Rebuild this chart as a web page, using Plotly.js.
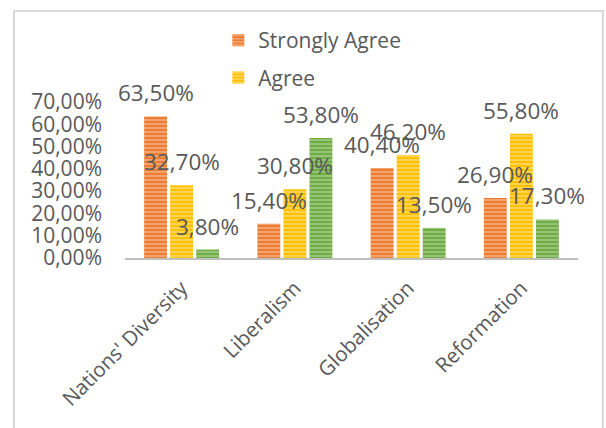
<!DOCTYPE html>
<html>
<head>
<meta charset="utf-8">
<script src="https://cdn.plot.ly/plotly-3.0.1.min.js"></script>
<style>
html,body{margin:0;padding:0;background:#fff;}
#chart{width:606px;height:428px;}
</style>
</head>
<body>
<div id="chart"></div>
<script>
const categories = ["Nations' Diversity", "Liberalism", "Globalisation", "Reformation"];
const stronglyAgree = [0.635, 0.154, 0.404, 0.269];
const agree = [0.327, 0.308, 0.462, 0.558];
const thirdSeries = [0.038, 0.538, 0.135, 0.173];

const seriesNames = ["Strongly Agree", "Agree", ""];
const seriesValues = [stronglyAgree, agree, thirdSeries];
const baseColors = ["#ED7D31", "#FFC000", "#70AD47"];
const stripeColors = ["#F6B48A", "#FFDD75", "#A6CF8A"];
const labelShift = [-26, 0, 26];

const traces = seriesValues.map((vals, i) => ({
  type: 'bar',
  name: seriesNames[i],
  x: categories,
  y: vals,
  showlegend: i < 2,
  legendgroup: 'g' + i,
  marker: {
    color: baseColors[i],
    pattern: {shape: '-', fgcolor: stripeColors[i], bgcolor: baseColors[i], size: 4, solidity: 0.35}
  },
  hoverinfo: 'none'
}));

const fmt = v => (v * 100).toFixed(2).replace('.', ',') + '%';
const annotations = [];
seriesValues.forEach((vals, i) => {
  vals.forEach((v, j) => {
    annotations.push({
      x: categories[j], y: v, xref: 'x', yref: 'y',
      text: fmt(v), showarrow: false,
      xshift: labelShift[i], yshift: 6, yanchor: 'bottom',
      font: {family: 'Open Sans, sans-serif', size: 22.5, color: '#595959'}
    });
  });
});

const layout = {
  width: 606, height: 428,
  margin: {l: 125, r: 28, t: 102, b: 170, autoexpand: false},
  paper_bgcolor: '#fff', plot_bgcolor: '#fff',
  separators: ', ',
  barmode: 'group',
  bargap: 0.31,
  bargroupgap: 0.12,
  font: {family: 'Open Sans, sans-serif', color: '#595959'},
  xaxis: {
    automargin: false,
    range: [-0.5, categories.length - 0.5],
    showline: true, linecolor: '#BFBFBF', linewidth: 2,
    showgrid: false, zeroline: false, ticks: '',
    tickangle: -45,
    ticklabelstandoff: 8,
    tickfont: {size: 20.5, color: '#595959'}
  },
  yaxis: {
    automargin: false,
    range: [0, 0.7], dtick: 0.1, tickformat: '.2%',
    showgrid: false, zeroline: false, showline: false, ticks: '',
    tickfont: {size: 21, color: '#595959'},
    ticklabelstandoff: 22
  },
  legend: {
    x: 0.206, y: 1.525, xanchor: 'left', yanchor: 'top',
    orientation: 'v', traceorder: 'grouped', tracegroupgap: 7,
    font: {size: 21, color: '#595959'},
    bgcolor: 'rgba(0,0,0,0)'
  },
  annotations: annotations,
  shapes: [{
    type: 'rect', xref: 'paper', yref: 'paper',
    x0: -0.245, x1: 1.055, y0: -1.2, y1: 1.583,
    line: {color: '#D9D9D9', width: 2}, layer: 'below'
  }]
};

Plotly.newPlot('chart', traces, layout, {staticPlot: true, displayModeBar: false});
</script>
</body>
</html>
